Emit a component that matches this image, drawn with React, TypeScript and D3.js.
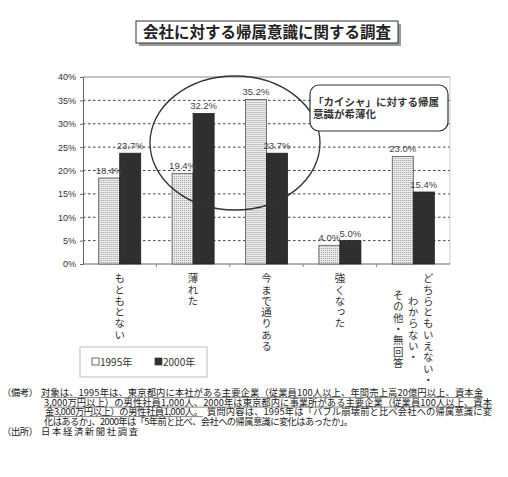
import React, { useEffect, useRef } from 'react';
import * as d3 from 'd3';

const title = '会社に対する帰属意識に関する調査';
const categories = ['もともとない', '薄れた', '今まで通りある', '強くなった', 'どちらともいえない・わからない・その他・無回答'];
const categoryLines = [
  ['もともとない'],
  ['薄れた'],
  ['今まで通りある'],
  ['強くなった'],
  ['どちらともいえない・', 'わからない・', 'その他・無回答'],
];
const seriesNames = ['1995年', '2000年'];
const values1995 = [18.4, 19.4, 35.2, 4.0, 23.0];
const values2000 = [23.7, 32.2, 23.7, 5.0, 15.4];
const yTicks = [0, 5, 10, 15, 20, 25, 30, 35, 40];
const calloutLines = ['「カイシャ」に対する帰属', '意識が希薄化'];
const noteHeads = ['（備考）', '（出所）'];
const noteLines = [
  '対象は、1995年は、東京都内に本社がある主要企業（従業員100人以上、年間売上高20億円以上、資本金',
  '3,000万円以上）の男性社員1,000人、2000年は東京都内に事業所がある主要企業（従業員100人以上、資本',
  '金3,000万円以上）の男性社員1,000人。',
  '質問内容は、1995年は「バブル崩壊前と比べ会社への帰属意識に変',
  '化はあるか」、2000年は「5年前と比べ、会社への帰属意識に変化はあったか」。',
  '日本経済新聞社調査',
];

const JP = '"Noto Sans CJK JP", sans-serif';
const NUM = '"Liberation Sans", Arial, sans-serif';

const App: React.FC = () => {
  const ref = useRef<SVGSVGElement>(null);

  useEffect(() => {
    if (!ref.current) return;
    const svg = d3.select(ref.current);
    svg.selectAll('*').remove();

    const left = 83, right = 450, top = 77, bottom = 264;

    const x = d3.scaleBand<string>()
      .domain(categories)
      .range([left, right])
      .paddingInner(0.427)
      .paddingOuter(0.2135);
    const xs = d3.scaleBand<string>().domain(seriesNames).range([0, x.bandwidth()]);
    const y = d3.scaleLinear().domain([0, 40]).range([bottom, top]);

    // stipple pattern for the 1995 bars
    const defs = svg.append('defs');
    const pat = defs.append('pattern')
      .attr('id', 'dots')
      .attr('width', 2).attr('height', 2)
      .attr('patternUnits', 'userSpaceOnUse');
    pat.append('rect').attr('width', 2).attr('height', 2).attr('fill', '#ececec');
    pat.append('rect').attr('width', 1).attr('height', 1).attr('fill', '#9a9a9a');

    svg.append('rect').attr('width', 508).attr('height', 477).attr('fill', '#fff');

    // title box
    svg.append('rect').attr('x', 139).attr('y', 24).attr('width', 262).attr('height', 22).attr('fill', '#9a9a9a');
    svg.append('rect').attr('x', 136).attr('y', 21).attr('width', 262).attr('height', 22)
      .attr('fill', '#fff').attr('stroke', '#333').attr('stroke-width', 1);
    svg.append('text')
      .attr('x', 267).attr('y', 38)
      .attr('text-anchor', 'middle')
      .attr('font-family', JP).attr('font-size', 15.5).attr('font-weight', 700)
      .attr('fill', '#222')
      .text(title);

    // grid
    svg.append('g').selectAll('line')
      .data(yTicks.filter(t => t > 0 && t < 40))
      .enter().append('line')
      .attr('x1', left).attr('x2', right)
      .attr('y1', d => y(d)).attr('y2', d => y(d))
      .attr('stroke', '#444').attr('stroke-width', 1)
      .attr('stroke-dasharray', '2.5,2.5');
    svg.append('line').attr('x1', left).attr('x2', right).attr('y1', y(40)).attr('y2', y(40))
      .attr('stroke', '#888');
    svg.append('line').attr('x1', right).attr('x2', right).attr('y1', y(40)).attr('y2', y(0))
      .attr('stroke', '#ccc');

    // y axis
    const yAxis = svg.append('g')
      .attr('transform', `translate(${left},0)`)
      .call(d3.axisLeft(y).tickValues(yTicks).tickSize(3).tickFormat(d => `${d}%`));
    yAxis.select('.domain').attr('stroke', '#666');
    yAxis.selectAll('.tick line').attr('stroke', '#666');
    yAxis.selectAll('.tick text')
      .attr('x', -7)
      .attr('font-family', NUM).attr('font-size', 9).attr('fill', '#333');

    // x axis with ticks at category boundaries
    svg.append('line').attr('x1', left).attr('x2', right).attr('y1', bottom).attr('y2', bottom)
      .attr('stroke', '#666');
    const step = x.step();
    svg.append('g').selectAll('line')
      .data(d3.range(1, categories.length))
      .enter().append('line')
      .attr('x1', i => left + i * step).attr('x2', i => left + i * step)
      .attr('y1', bottom).attr('y2', bottom + 3)
      .attr('stroke', '#888');

    // bars
    const rows = categories.map((c, i) => ({ c, v: [values1995[i], values2000[i]] }));
    const grp = svg.append('g').selectAll('g')
      .data(rows).enter().append('g')
      .attr('transform', d => `translate(${x(d.c)},0)`);
    grp.selectAll('rect')
      .data(d => d.v.map((v, k) => ({ s: seriesNames[k], v })))
      .enter().append('rect')
      .attr('x', d => xs(d.s) as number)
      .attr('y', d => y(d.v))
      .attr('width', xs.bandwidth())
      .attr('height', d => bottom - y(d.v))
      .attr('fill', d => (d.s === seriesNames[0] ? 'url(#dots)' : '#2f2f2f'))
      .attr('stroke', d => (d.s === seriesNames[0] ? '#555' : '#222'))
      .attr('stroke-width', 0.8);
    grp.selectAll('text')
      .data(d => d.v.map((v, k) => ({ s: seriesNames[k], v })))
      .enter().append('text')
      .attr('x', d => (xs(d.s) as number) + xs.bandwidth() / 2)
      .attr('y', d => y(d.v) - 4)
      .attr('text-anchor', 'middle')
      .attr('font-family', NUM).attr('font-size', 9.5).attr('fill', '#444')
      .text(d => `${d.v.toFixed(1)}%`);

    // ellipse + callout
    svg.append('ellipse')
      .attr('cx', 235).attr('cy', 143).attr('rx', 85).attr('ry', 67)
      .attr('fill', 'none').attr('stroke', '#333').attr('stroke-width', 1.3);
    svg.append('rect')
      .attr('x', 310).attr('y', 85).attr('width', 138).attr('height', 46).attr('rx', 9)
      .attr('fill', '#fff').attr('stroke', '#333').attr('stroke-width', 1.2);
    svg.append('g').selectAll('text')
      .data(calloutLines).enter().append('text')
      .attr('x', 313).attr('y', (d, i) => 106 + i * 12)
      .attr('font-family', JP).attr('font-size', 10.5).attr('font-weight', 700).attr('fill', '#333')
      .text(d => d);

    // vertical category labels
    const pitch = 11.3;
    categoryLines.forEach((cols, ci) => {
      const cx = (x(categories[ci]) as number) + x.bandwidth() / 2;
      const maxLen = d3.max(cols, s => [...s].length) as number;
      cols.forEach((s, i) => {
        const colX = cx + ((cols.length - 1) / 2 - i) * 15;
        const y0 = 273 + ((maxLen - [...s].length) * pitch) / 2;
        svg.append('text')
          .attr('x', colX).attr('y', y0)
          .style('writing-mode', 'vertical-rl')
          .attr('letter-spacing', 0.8)
          .attr('font-family', JP).attr('font-size', 10.5).attr('fill', '#333')
          .text(s);
      });
    });

    // legend
    svg.append('rect').attr('x', 80).attr('y', 347).attr('width', 127).attr('height', 30)
      .attr('fill', '#fff').attr('stroke', '#bbb');
    const lg = svg.append('g').selectAll('g')
      .data(seriesNames).enter().append('g')
      .attr('transform', (d, i) => `translate(${92 + i * 63},362)`);
    lg.append('rect').attr('x', 0).attr('y', -4).attr('width', 7).attr('height', 7)
      .attr('fill', (d, i) => (i === 0 ? '#fff' : '#2f2f2f')).attr('stroke', '#444').attr('stroke-width', 0.8);
    lg.append('text').attr('x', 8).attr('y', 4)
      .attr('font-family', JP).attr('font-size', 10).attr('fill', '#333')
      .text(d => d);

    // notes
    const noteLayout = [
      { x: 41, y: 396, w: 442, u: true },
      { x: 44, y: 405.5, w: 448, u: true },
      { x: 45, y: 415, w: 158, u: true },
      { x: 207, y: 415, w: 285, u: false },
      { x: 44, y: 424.5, w: 309, u: false },
      { x: 41, y: 435, w: 97, u: false },
    ];
    const notes = svg.append('g');
    noteLines.forEach((s, i) => {
      const L = noteLayout[i];
      notes.append('text')
        .attr('x', L.x).attr('y', L.y)
        .attr('textLength', L.w).attr('lengthAdjust', 'spacing')
        .attr('font-family', JP).attr('font-size', 9.3).attr('fill', '#222')
        .text(s);
      if (L.u) {
        notes.append('line')
          .attr('x1', L.x).attr('x2', L.x + L.w)
          .attr('y1', L.y + 1.6).attr('y2', L.y + 1.6)
          .attr('stroke', '#333').attr('stroke-width', 0.6);
      }
    });
    notes.selectAll('.head')
      .data(noteHeads).enter().append('text')
      .attr('class', 'head')
      .attr('x', 2).attr('y', (d, i) => (i === 0 ? 396 : 435))
      .attr('textLength', 36).attr('lengthAdjust', 'spacing')
      .attr('font-family', JP).attr('font-size', 9.3).attr('fill', '#222')
      .text(d => d);
  }, []);

  return (
    <svg
      ref={ref}
      width={508}
      height={477}
      style={{ position: 'absolute', left: 0, top: 0, display: 'block' }}
    />
  );
};

export default App;
